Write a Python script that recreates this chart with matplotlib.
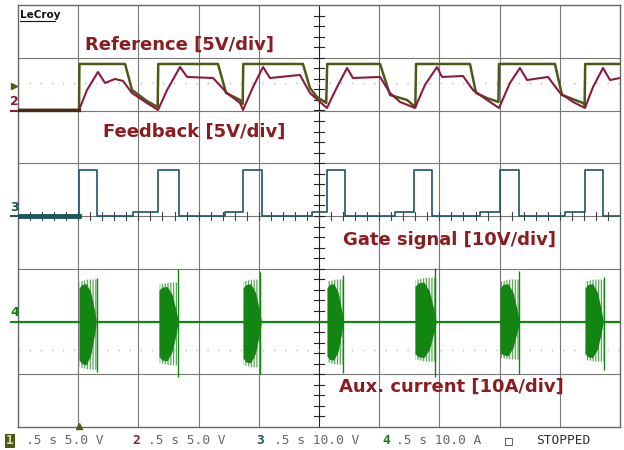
import numpy as np
import matplotlib.pyplot as plt
from matplotlib.lines import Line2D

# scope settings: 0.5 s/div, 10 x 8 divisions
# ch1 reference / ch2 feedback, 5 V/div, ground at div 6
ref_t = [0.000, 0.507, 0.510, 0.889, 0.947, 1.071, 1.160,
         1.165, 1.661, 1.728, 1.844, 1.866,
         1.871, 2.367, 2.425, 2.483, 2.560,
         2.568, 3.007, 3.090, 3.231, 3.300,
         3.306, 3.754, 3.804, 3.895, 3.990,
         3.995, 4.460, 4.518, 4.693, 4.706,
         4.711, 5.000]
ref_v = [0.05, 0.05, 4.41, 4.41, 1.94, 0.90, 0.33,
         4.41, 4.41, 1.66, 1.00, 0.62,
         4.41, 4.41, 2.13, 1.28, 0.71,
         4.41, 4.41, 1.47, 1.00, 0.33,
         4.41, 4.41, 1.66, 1.18, 0.81,
         4.41, 4.41, 1.47, 0.71, 0.50,
         4.41, 4.41]

fb_t = [0.000, 0.507, 0.573, 0.664, 0.723, 0.806, 0.872, 0.947, 1.071, 1.163,
        1.238, 1.346, 1.404, 1.620, 1.736, 1.844, 1.869,
        1.952, 2.035, 2.093, 2.342, 2.425, 2.508, 2.566,
        2.650, 2.733, 2.782, 3.007, 3.090, 3.173, 3.297,
        3.380, 3.480, 3.522, 3.696, 3.779, 3.895, 3.995,
        4.086, 4.169, 4.228, 4.402, 4.502, 4.610, 4.709,
        4.776, 4.859, 4.917, 5.000]
fb_v = [0.05, 0.05, 1.94, 3.65, 2.61, 2.99, 2.80, 1.66, 0.71, 0.05,
        1.94, 4.12, 3.18, 3.08, 1.66, 0.71, 0.05,
        2.23, 4.12, 3.08, 3.37, 1.66, 0.81, 0.24,
        2.23, 4.03, 3.08, 3.18, 1.66, 0.81, 0.24,
        2.42, 4.12, 3.18, 3.27, 1.94, 1.00, 0.24,
        2.61, 4.03, 2.89, 3.18, 1.66, 0.81, 0.24,
        2.23, 4.03, 2.89, 3.08]

# ch3 gate signal, 10 V/div, ground at div 4
gate_on = [0.507, 1.163, 1.869, 2.566, 3.289, 4.003, 4.709]
gate_off = [0.656, 1.337, 2.027, 2.716, 3.439, 4.161, 4.859]
gate_pre = [np.nan, 0.955, 1.719, 2.442, 3.131, 3.837, 4.543]
gate_high = 8.7
gate_pre_lvl = 0.76

# ch4 aux current, 10 A/div, ground at div 2
burst_start = [0.507, 1.171, 1.869, 2.566, 3.297, 4.003, 4.709]
burst_end = [0.656, 1.337, 2.027, 2.708, 3.480, 4.169, 4.867]
burst_top = [7.96, 7.4, 7.96, 7.96, 8.3, 7.96, 7.96]
burst_bot = [-9.1, -8.3, -8.7, -8.15, -7.6, -7.2, -7.6]
spike_t = [0.656, 1.329, 2.010, 2.699, 3.463, 4.161, 4.867]
spike_top = [8.3, 9.86, 9.3, 8.9, 10.2, 9.5, 8.5]
spike_bot = [-9.5, -10.6, -10.0, -9.7, -10.6, -10.0, -9.1]

c_ref = '#4b5a14'
c_fb = '#8c1a3c'
c_gate = '#1d5563'
c_aux = '#128512'
c_lbl = '#8b1c1f'


def ch12(v):
    return 6 + np.asarray(v) / 5.0


def ch3(v):
    return 4 + np.asarray(v) / 10.0


def ch4(a):
    return 2 + np.asarray(a) / 10.0


plt.rcParams['hatch.linewidth'] = 0.9

fig = plt.figure(figsize=(6.24, 4.5), dpi=100)
ax = fig.add_axes([18 / 624, 23 / 450, 602 / 624, 422 / 450])
ax.set_xlim(0, 5)
ax.set_ylim(0, 8)
ax.set_xticks([])
ax.set_yticks([])
for s in ax.spines.values():
    s.set_color('#666666')
    s.set_linewidth(1)

# graticule
for i in range(1, 10):
    ax.axvline(i * 0.5, color='#222222' if i == 5 else '#777777', lw=0.8, zorder=1)
for j in range(1, 8):
    ax.axhline(j, color='#777777', lw=0.8, zorder=1)
for yy in np.arange(0.2, 8, 0.2):
    ax.plot([2.46, 2.54], [yy, yy], color='#222222', lw=0.8, zorder=1)
for xx in np.arange(0.1, 5, 0.1):
    ax.plot([xx, xx], [3.92, 4.08], color='#444444', lw=0.8, zorder=1)
ax.axhline(6.52, color='#b8b8b8', lw=1, ls=(0, (1, 7)), zorder=1)
ax.axhline(1.46, color='#b8b8b8', lw=1, ls=(0, (1, 7)), zorder=1)

# ch1 / ch2
ax.plot(ref_t, ch12(ref_v), color=c_ref, lw=1.8, zorder=3)
ax.plot(fb_t, ch12(fb_v), color=c_fb, lw=1.5, zorder=4)
ax.plot([0, 0.507], ch12([0.05, 0.05]), color='#4a2a14', lw=2.4, zorder=5)

# ch3
gx, gy = [0.0], [0.0]
for on, off, pre in zip(gate_on, gate_off, gate_pre):
    lvl = 0.0
    if not np.isnan(pre):
        gx += [pre, pre]
        gy += [0.0, gate_pre_lvl]
        lvl = gate_pre_lvl
    gx += [on, on, off, off]
    gy += [lvl, gate_high, gate_high, 0.0]
gx.append(5.0)
gy.append(0.0)
ax.plot(gx, ch3(gy), color=c_gate, lw=1.2, zorder=3)
ax.plot([0, 0.507], ch3([0, 0]), color=c_gate, lw=3.5, zorder=3)

# ch4
ax.plot([0, 5], ch4([0, 0]), color=c_aux, lw=1.6, zorder=3)
for s, e, top, bot, st, sp_t, sp_b in zip(burst_start, burst_end, burst_top,
                                          burst_bot, spike_t, spike_top, spike_bot):
    w = e - s
    ex = [s + 0.03 * w, s + 0.5 * w, e]
    ax.fill_between(ex, ch4([top * 0.95, top, top]),
                    ch4([bot * 0.95, bot, bot]),
                    facecolor='none', edgecolor='#5aa65a', hatch='||||||', lw=0, zorder=3)
    cx = s + w * np.array([0, 0.15, 0.4, 0.65, 0.85, 0.95])
    cf = np.array([0.8, 0.88, 0.9, 0.7, 0.3, 0.05])
    ax.fill_between(cx, ch4(top * cf), ch4(bot * cf), color=c_aux, lw=0, zorder=4)
    ax.vlines(st, ch4(sp_b), ch4(sp_t), color=c_aux, lw=1.0, zorder=4)

# labels
lbl = dict(color=c_lbl, fontsize=13, fontweight='bold', ha='left', va='center', zorder=6)
ax.text(0.556, 7.24, 'Reference [5V/div]', **lbl)
ax.text(0.706, 5.59, 'Feedback [5V/div]', **lbl)
ax.text(2.699, 3.545, 'Gate signal [10V/div]', **lbl)
ax.text(2.666, 0.758, 'Aux. current [10A/div]', **lbl)

# left channel markers
yt = ax.get_yaxis_transform()
for lab, lvl, col in [('2', 6, c_fb), ('3', 4, c_gate), ('4', 2, c_aux)]:
    ax.text(-0.006, lvl + 0.04, lab, transform=yt, color=col, fontsize=9,
            fontweight='bold', ha='center', va='bottom', clip_on=False)
    ax.plot([-0.012, 0], [lvl, lvl], transform=yt, color=col, lw=1.5, clip_on=False)
ax.plot([-0.006], [6.46], marker='>', ms=5, color=c_ref, transform=yt, clip_on=False)
ax.plot([0.507], [0.02], marker='^', ms=4, color=c_ref, clip_on=False, zorder=6)

# LeCroy logo
fig.text(20 / 624, 1 - 15 / 450, 'LeCroy', fontsize=7.5, fontweight='bold',
         ha='left', va='center', color='#111111')
fig.add_artist(Line2D([20 / 624, 55 / 624], [1 - 21 / 450] * 2, color='#111111', lw=0.8))

# status bar
yb = 1 - 441 / 450
mono = dict(family='DejaVu Sans Mono', fontsize=9.3, va='center', ha='left')
fig.text(6 / 624, yb, '1', color='#d8d8a0', fontweight='bold',
         bbox=dict(facecolor=c_ref, edgecolor='none', pad=0.6), **mono)
fig.text(26 / 624, yb, '.5 s 5.0 V', color='#666666', **mono)
fig.text(132 / 624, yb, '2', color=c_fb, fontweight='bold', **mono)
fig.text(148 / 624, yb, '.5 s 5.0 V', color='#666666', **mono)
fig.text(256 / 624, yb, '3', color=c_gate, fontweight='bold', **mono)
fig.text(274 / 624, yb, '.5 s 10.0 V', color='#666666', **mono)
fig.text(382 / 624, yb, '4', color=c_aux, fontweight='bold', **mono)
fig.text(396 / 624, yb, '.5 s 10.0 A', color='#666666', **mono)
fig.text(505 / 624, yb, '\u25a1', color='#333333', **mono)
fig.text(536 / 624, yb, 'STOPPED', color='#333333', **mono)

fig.savefig('out.png', dpi=100, facecolor='white')
